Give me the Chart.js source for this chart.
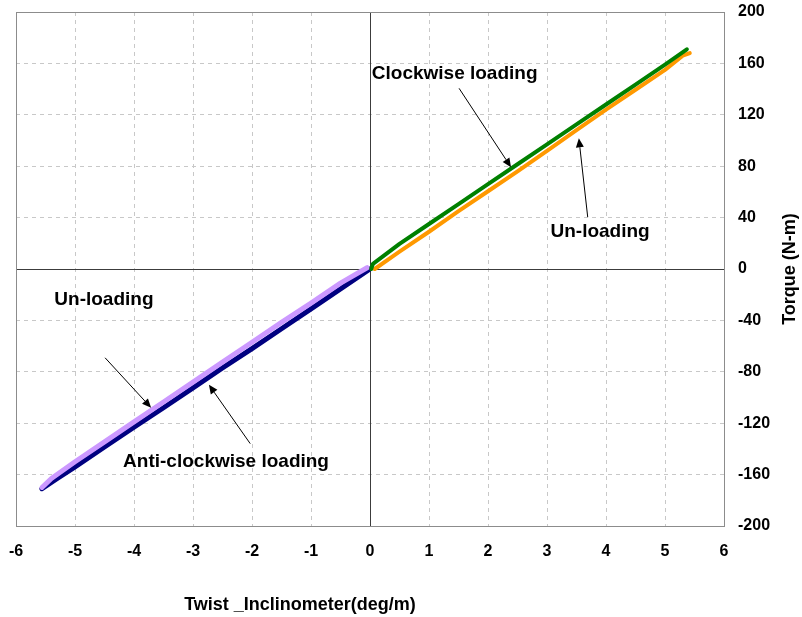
<!DOCTYPE html>
<html>
<head>
<meta charset="utf-8">
<script src="https://cdn.jsdelivr.net/npm/chart.js@4.4.1/dist/chart.umd.min.js"></script>
<style>
  html, body { margin: 0; padding: 0; background: #fff; }
  #wrap { width: 802px; height: 617px; }
</style>
</head>
<body>
<div id="wrap"><canvas id="grafico" width="802" height="617"></canvas></div>
<script>
// Ensayo de torsion: par vs giro (inclinometro)

const ticksX = [-6, -5, -4, -3, -2, -1, 0, 1, 2, 3, 4, 5, 6];
const ticksY = [-200, -160, -120, -80, -40, 0, 40, 80, 120, 160, 200];

// carga horaria
const horarioCargaX = [0.02, 0.05, 0.5, 1.0, 1.5, 2.0, 2.5, 3.0, 3.5, 4.0, 4.5, 5.0, 5.37];
const horarioCargaY = [0, 4, 19.5, 35, 50.5, 66, 81.5, 97, 112.5, 128, 143.5, 159, 171];
// descarga horaria
const horarioDescargaX = [5.42, 5.3, 5.0, 4.5, 4.0, 3.5, 3.0, 2.5, 2.0, 1.5, 1.0, 0.5, 0.08];
const horarioDescargaY = [168, 166, 155, 139.5, 124, 108, 92, 76, 60.5, 45, 29, 13.5, 0];
// carga antihoraria
const antiCargaX = [0, -0.5, -1.0, -1.5, -2.0, -2.5, -3.0, -3.5, -4.0, -4.5, -5.0, -5.3, -5.56];
const antiCargaY = [0, -15.5, -31, -46.5, -62, -77, -92.5, -108, -123, -138.5, -154, -163, -171];
// descarga antihoraria
const antiDescargaX = [-5.56, -5.4, -5.0, -4.5, -4.0, -3.5, -3.0, -2.5, -2.0, -1.5, -1.0, -0.5, -0.05];
const antiDescargaY = [-170, -163, -150, -134.5, -119, -103.5, -88, -72.5, -57, -41.5, -26.5, -11, 1];

// textos y flechas (coordenadas en unidades de los ejes)
const etiquetas = [
  { texto: "Clockwise loading", x: 0.03, y: 152, align: "left" },
  { texto: "Un-loading", x: 3.9, y: 29, align: "center" },
  { texto: "Un-loading", x: -4.51, y: -24, align: "center" },
  { texto: "Anti-clockwise loading", x: -2.44, y: -150, align: "center" }
];
const flechas = [
  { x0: 1.51, y0: 140.6, x1: 2.39, y1: 79.2 },
  { x0: 3.69, y0: 40.4, x1: 3.54, y1: 101.7 },
  { x0: -4.49, y0: -69.1, x1: -3.71, y1: -108 },
  { x0: -2.03, y0: -135.9, x1: -2.73, y1: -90.1 }
];

const tituloX = "Twist _Inclinometer(deg/m)";
const tituloY = "Torque (N-m)";

const fuente = "'Liberation Sans', Arial, sans-serif";

function puntos(xs, ys) {
  return xs.map((x, i) => ({ x: x, y: ys[i] }));
}

function serie(xs, ys, color, ancho) {
  return {
    data: puntos(xs, ys),
    showLine: true,
    borderColor: color,
    backgroundColor: color,
    borderWidth: ancho,
    pointRadius: 0,
    tension: 0,
    borderCapStyle: "round",
    borderJoinStyle: "round"
  };
}

// marco, ejes en cero, textos y flechas
const extras = {
  id: "extras",
  beforeDatasetsDraw(chart) {
    const { ctx, chartArea: a, scales: { x, y } } = chart;
    ctx.save();
    ctx.strokeStyle = "#3c3c3c";
    ctx.lineWidth = 1;
    ctx.beginPath();
    const x0 = Math.round(x.getPixelForValue(0)) + 0.5;
    const y0 = Math.round(y.getPixelForValue(0)) + 0.5;
    ctx.moveTo(x0, a.top); ctx.lineTo(x0, a.bottom);
    ctx.moveTo(a.left, y0); ctx.lineTo(a.right, y0);
    ctx.stroke();
    ctx.strokeStyle = "#8c8c8c";
    ctx.strokeRect(Math.round(a.left) + 0.5, Math.round(a.top) + 0.5,
      Math.round(a.right - a.left), Math.round(a.bottom - a.top));
    ctx.restore();
  },
  afterDatasetsDraw(chart) {
    const { ctx, scales: { x, y } } = chart;
    ctx.save();
    ctx.fillStyle = "#000";
    ctx.font = "bold 19px " + fuente;
    ctx.textBaseline = "middle";
    for (const e of etiquetas) {
      ctx.textAlign = e.align;
      ctx.fillText(e.texto, x.getPixelForValue(e.x), y.getPixelForValue(e.y));
    }
    ctx.strokeStyle = "#000";
    ctx.lineWidth = 1;
    for (const f of flechas) {
      const ax = x.getPixelForValue(f.x0), ay = y.getPixelForValue(f.y0);
      const bx = x.getPixelForValue(f.x1), by = y.getPixelForValue(f.y1);
      const ang = Math.atan2(by - ay, bx - ax);
      const largo = 9, medio = 4;
      const cx = bx - largo * Math.cos(ang), cy = by - largo * Math.sin(ang);
      ctx.beginPath();
      ctx.moveTo(ax, ay);
      ctx.lineTo(cx, cy);
      ctx.stroke();
      ctx.beginPath();
      ctx.moveTo(bx, by);
      ctx.lineTo(cx + medio * Math.sin(ang), cy - medio * Math.cos(ang));
      ctx.lineTo(cx - medio * Math.sin(ang), cy + medio * Math.cos(ang));
      ctx.closePath();
      ctx.fill();
    }
    // titulos de ejes
    ctx.font = "bold 18px " + fuente;
    ctx.textAlign = "center";
    ctx.fillText(tituloX, 300, 605);
    ctx.translate(790, (chart.chartArea.top + chart.chartArea.bottom) / 2);
    ctx.rotate(-Math.PI / 2);
    ctx.fillText(tituloY, 0, 0);
    ctx.restore();
  }
};

const guion = ctx => (ctx.tick && ctx.tick.value === 0 ? [] : [4, 4]);
const colorGrid = ctx => (ctx.tick && ctx.tick.value === 0 ? "rgba(0,0,0,0)" : "#c8c8c8");

new Chart(document.getElementById("grafico"), {
  type: "scatter",
  data: {
    datasets: [
      serie(horarioCargaX, horarioCargaY, "#008000", 4),
      serie(horarioDescargaX, horarioDescargaY, "#ff9900", 4),
      serie(antiDescargaX, antiDescargaY, "#cc99ff", 5),
      serie(antiCargaX, antiCargaY, "#000080", 5)
    ]
  },
  options: {
    responsive: false,
    animation: false,
    layout: { padding: { left: 16, top: 12, right: 0, bottom: 0 } },
    plugins: { legend: { display: false }, tooltip: { enabled: false } },
    scales: {
      x: {
        type: "linear",
        min: -6,
        max: 6,
        afterFit: s => { s.height = 91; s.paddingLeft = 0; s.paddingRight = 0; },
        afterBuildTicks: s => { s.ticks = ticksX.map(v => ({ value: v })); },
        ticks: {
          padding: 16,
          color: "#000",
          maxRotation: 0,
          font: { family: fuente, size: 16, weight: "bold" }
        },
        grid: { drawTicks: false, color: colorGrid, lineWidth: 1 },
        border: { display: false, dash: guion }
      },
      y: {
        type: "linear",
        position: "right",
        min: -200,
        max: 200,
        afterFit: s => { s.width = 78; s.paddingTop = 0; s.paddingBottom = 0; },
        afterBuildTicks: s => { s.ticks = ticksY.map(v => ({ value: v })); },
        ticks: {
          padding: 14,
          color: "#000",
          font: { family: fuente, size: 16, weight: "bold" }
        },
        grid: { drawTicks: false, color: colorGrid, lineWidth: 1 },
        border: { display: false, dash: guion }
      }
    }
  },
  plugins: [extras]
});
</script>
</body>
</html>
